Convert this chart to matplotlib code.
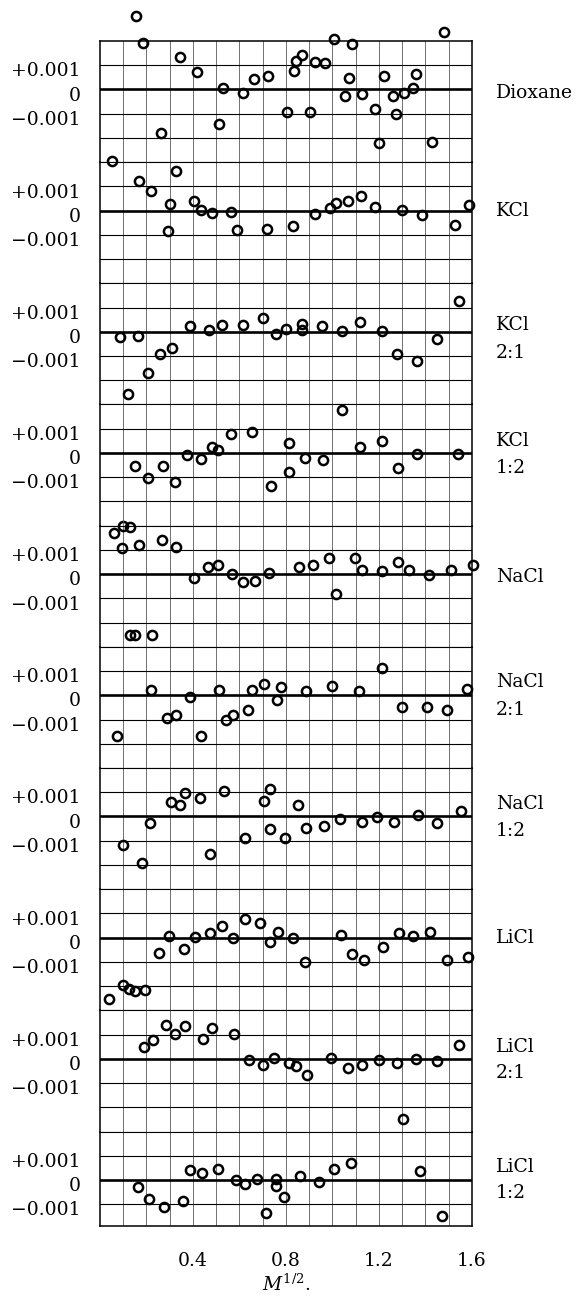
"""
Deviation plots for the ten solvent/salt systems, stacked on a common M^1/2 axis.
"""

import numpy as np
import matplotlib
matplotlib.use("Agg")
import matplotlib.pyplot as plt
from matplotlib.transforms import ScaledTranslation

# deviations are kept in units of 0.001
dioxane_x = [0.155, 0.184, 0.051, 0.263, 0.345, 0.416, 0.514, 0.527, 0.614, 0.661, 0.722,
             0.804, 0.836, 0.843, 0.867, 0.904, 0.926, 0.968, 1.006, 1.054, 1.070, 1.085,
             1.127, 1.184, 1.200, 1.220, 1.260, 1.274, 1.307, 1.345, 1.361, 1.429, 1.480]
dioxane_y = [3.02, 1.92, -2.95, -1.78, 1.34, 0.73, -1.42, 0.04, -0.15, 0.44, 0.54,
             -0.92, 0.76, 1.16, 1.42, -0.94, 1.13, 1.08, 2.06, -0.26, 0.46, 1.89,
             -0.19, -0.80, -2.22, 0.57, -0.26, -1.02, -0.15, 0.04, 0.62, -2.17, 2.37]

kcl_x = [0.168, 0.218, 0.299, 0.293, 0.329, 0.404, 0.434, 0.480, 0.563, 0.590, 0.717,
         0.829, 0.923, 0.989, 1.014, 1.067, 1.122, 1.184, 1.298, 1.386, 1.526, 1.589]
kcl_y = [1.23, 0.80, 0.28, -0.83, 1.64, 0.40, 0.01, -0.08, -0.06, -0.79, -0.76,
         -0.62, -0.12, 0.11, 0.33, 0.40, 0.59, 0.15, 0.03, -0.18, -0.59, 0.23]

kcl21_x = [0.084, 0.119, 0.163, 0.207, 0.258, 0.310, 0.389, 0.468, 0.524, 0.617, 0.703, 0.755,
           0.801, 0.870, 0.870, 0.954, 1.043, 1.120, 1.211, 1.277, 1.363, 1.448, 1.546]
kcl21_y = [-0.23, -2.58, -0.17, -1.72, -0.92, -0.66, 0.25, 0.07, 0.29, 0.29, 0.58, -0.08,
           0.11, 0.34, 0.07, 0.23, 0.04, 0.41, 0.04, -0.92, -1.20, -0.28, 1.27]

kcl12_x = [1.041, 0.150, 0.207, 0.271, 0.324, 0.373, 0.435, 0.480, 0.506, 0.562, 0.654,
           0.736, 0.812, 0.815, 0.883, 0.959, 1.117, 1.212, 1.283, 1.363, 1.541]
kcl12_y = [1.79, -0.55, -1.05, -0.55, -1.19, -0.07, -0.26, 0.23, 0.14, 0.79, 0.86,
           -1.38, 0.41, -0.80, -0.22, -0.28, 0.25, 0.50, -0.62, -0.03, -0.04]

nacl_x = [0.060, 0.101, 0.128, 0.095, 0.166, 0.266, 0.328, 0.405, 0.464, 0.506, 0.567, 0.617, 0.665,
          0.725, 0.855, 0.918, 0.986, 1.014, 1.097, 1.125, 1.215, 1.282, 1.331, 1.413, 1.510, 1.606]
nacl_y = [1.70, 1.97, 1.93, 1.08, 1.21, 1.41, 1.10, -0.17, 0.29, 0.39, 0.00, -0.33, -0.30,
          0.03, 0.28, 0.39, 0.66, -0.83, 0.66, 0.15, 0.14, 0.48, 0.15, -0.03, 0.18, 0.39]

nacl21_x = [0.127, 0.152, 0.223, 0.073, 0.218, 0.290, 0.329, 0.388, 0.434, 0.510, 0.540, 0.570,
            0.638, 0.652, 0.706, 0.760, 0.780, 0.888, 0.999, 1.116, 1.214, 1.301, 1.408,
            1.492, 1.579]
nacl21_y = [2.48, 2.48, 2.48, -1.66, 0.23, -0.94, -0.83, -0.07, -1.66, 0.22, -1.03, -0.80,
            -0.61, 0.21, 0.46, -0.21, 0.33, 0.18, 0.37, 0.18, 1.13, -0.50, -0.50,
            -0.59, 0.25]

nacl12_x = [0.101, 0.180, 0.214, 0.307, 0.342, 0.366, 0.432, 0.475, 0.532, 0.624, 0.707, 0.731,
            0.730, 0.796, 0.853, 0.885, 0.962, 1.032, 1.128, 1.192, 1.266, 1.366, 1.448, 1.554]
nacl12_y = [-1.16, -1.94, -0.26, 0.61, 0.47, 0.97, 0.77, -1.54, 1.06, -0.88, 0.65, 1.13,
            -0.51, -0.90, 0.46, -0.46, -0.41, -0.11, -0.22, -0.04, -0.23, 0.07, -0.26, 0.22]

licl_x = [0.038, 0.101, 0.123, 0.149, 0.195, 0.253, 0.296, 0.362, 0.408, 0.475, 0.524, 0.573,
          0.625, 0.687, 0.730, 0.764, 0.828, 0.880, 1.035, 1.086, 1.136, 1.217, 1.285, 1.348,
          1.418, 1.492, 1.584]
licl_y = [-2.55, -1.97, -2.14, -2.19, -2.17, -0.65, 0.08, -0.48, 0.04, 0.18, 0.46, -0.03,
          0.76, 0.62, -0.17, 0.22, -0.03, -0.99, 0.11, -0.68, -0.92, -0.37, 0.21, 0.08,
          0.22, -0.92, -0.79]

licl21_x = [0.190, 0.226, 0.282, 0.323, 0.364, 0.442, 0.483, 0.576, 0.643, 0.699, 0.747, 0.813,
            0.842, 0.891, 0.995, 1.065, 1.128, 1.200, 1.276, 1.302, 1.361, 1.450, 1.543]
licl21_y = [0.48, 0.76, 1.39, 1.01, 1.34, 0.83, 1.27, 1.02, -0.07, -0.25, 0.03, -0.18,
            -0.28, -0.66, 0.03, -0.39, -0.25, -0.04, -0.18, -2.50, 0.00, -0.08, 0.55]

licl12_x = [0.163, 0.212, 0.275, 0.356, 0.388, 0.440, 0.506, 0.587, 0.624, 0.674, 0.712, 0.758,
            0.755, 0.790, 0.861, 0.940, 1.006, 1.079, 1.375, 1.470]
licl12_y = [-0.30, -0.80, -1.10, -0.88, 0.41, 0.30, 0.44, 0.00, -0.18, 0.03, -1.35, 0.04,
            -0.25, -0.72, 0.17, -0.07, 0.46, 0.72, 0.37, -1.49]

panel_names = ["Dioxane", "KCl", "KCl\n2:1", "KCl\n1:2", "NaCl", "NaCl\n2:1",
               "NaCl\n1:2", "LiCl", "LiCl\n2:1", "LiCl\n1:2"]
panel_x = [dioxane_x, kcl_x, kcl21_x, kcl12_x, nacl_x, nacl21_x, nacl12_x,
           licl_x, licl21_x, licl12_x]
panel_y = [dioxane_y, kcl_y, kcl21_y, kcl12_y, nacl_y, nacl21_y, nacl12_y,
           licl_y, licl21_y, licl12_y]

x_ticks = [0.4, 0.8, 1.2, 1.6]
y_ticks = [-1, 0, 1]
y_ticklabels = ["\u22120.001", "0", "+0.001"]

# where the right-hand names sit (first line, second line), in grid units
label_pos = [(-0.15, None), (0.0, None), (0.28, -0.86), (0.5, -0.63), (-0.12, None),
             (0.53, -0.6), (0.5, -0.62), (-0.03, None), (0.5, -0.58), (0.53, -0.54)]

plt.rcParams["font.family"] = ["DejaVu Serif"]
plt.rcParams["mathtext.fontset"] = "dejavuserif"

fig = plt.figure(figsize=(5.78, 12.96), dpi=100)
n = len(panel_names)
gs = fig.add_gridspec(n, 1, height_ratios=[5] * (n - 1) + [3.9], hspace=0,
                      left=0.173, right=0.8166, top=0.9684, bottom=0.054)
shift_down = ScaledTranslation(0, -3 / 72, fig.dpi_scale_trans)

for i in range(n):
    ax = fig.add_subplot(gs[i])
    ax.set_facecolor("none")
    ax.set_zorder(n - i)
    last = i == n - 1
    lo = -1.9 if last else -3

    ax.set_xlim(0, 1.6)
    ax.set_ylim(lo, 2)

    # grid: vertical every 0.1, horizontal every 0.001
    for gx in np.arange(0.1, 1.6, 0.1):
        ax.axvline(gx, color="0.35", lw=0.6, zorder=1)
    for gy in range(int(np.ceil(lo)), 2):
        if gy == 0:
            ax.axhline(0, color="black", lw=1.9, zorder=2)
        else:
            ax.axhline(gy, color="black", lw=0.8, zorder=2)

    ax.plot(panel_x[i], panel_y[i], "o", ms=6.6, mfc="none", mec="black",
            mew=1.8, clip_on=False, zorder=5)

    for side in ["left", "right"]:
        ax.spines[side].set_linewidth(1.1)
    ax.spines["top"].set_linewidth(1.1 if i == 0 else 0.8)
    ax.spines["bottom"].set_visible(last)
    ax.spines["bottom"].set_linewidth(1.1)

    ax.set_yticks(y_ticks)
    ax.set_yticklabels(y_ticklabels)
    ax.tick_params(axis="y", length=0, pad=14, labelsize=13.5)
    for lab in ax.get_yticklabels():
        lab.set_transform(lab.get_transform() + shift_down)

    ax.set_xticks(x_ticks)
    if last:
        ax.tick_params(axis="x", length=0, pad=19, labelsize=13.5)
        ax.set_xlabel(r"$M^{1/2}$.", fontsize=13.5, labelpad=2)
    else:
        ax.tick_params(axis="x", length=0, labelbottom=False)

    trans = ax.get_yaxis_transform()
    for line, ypos in zip(panel_names[i].split("\n"), label_pos[i]):
        ax.text(1.065, ypos, line, transform=trans, fontsize=13.5,
                ha="left", va="center")

fig.savefig("out.png", dpi=100)
